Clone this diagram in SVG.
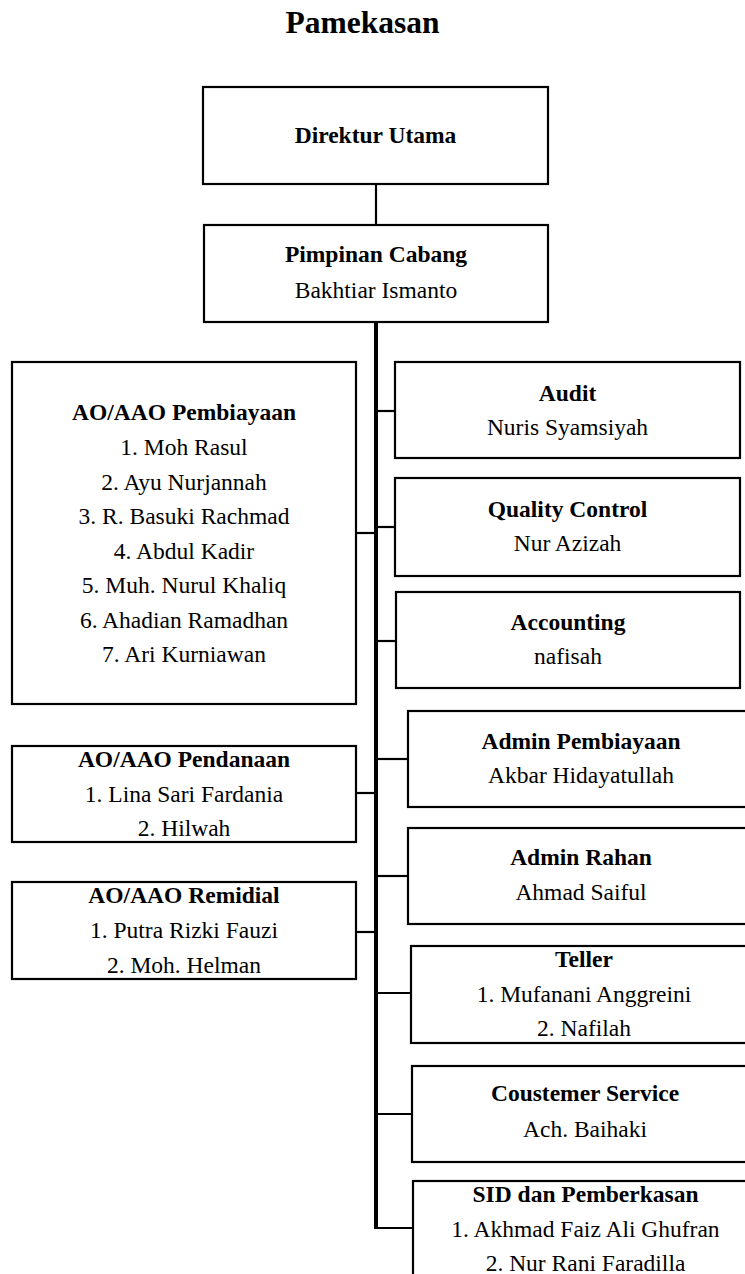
<svg xmlns="http://www.w3.org/2000/svg" width="745" height="1274" viewBox="0 0 745 1274">
<style>
.box{fill:#fff;stroke:#000;stroke-width:2.2}
text{font-family:'Liberation Serif','Times New Roman',Times,'DejaVu Serif',serif}
.t{font-size:23.5px;fill:#000;text-anchor:middle}
.b{font-weight:bold}
.title{font-size:31.5px;font-weight:bold;text-anchor:middle}
.c{fill:none;stroke:#000;stroke-width:2.2}
.main{fill:none;stroke:#000;stroke-width:4}
</style>
<rect width="745" height="1274" fill="#fff"/>
<text class="title" x="362.5" y="33" font-family="Liberation Serif, serif">Pamekasan</text>
<g id="connectors">
<line class="c" x1="376" y1="184" x2="376" y2="225"/>
<line class="main" x1="376" y1="322" x2="376" y2="1229"/>
<line class="c" x1="376" y1="411" x2="395" y2="411"/>
<line class="c" x1="376" y1="527" x2="395" y2="527"/>
<line class="c" x1="376" y1="641" x2="395" y2="641"/>
<line class="c" x1="376" y1="759" x2="408" y2="759"/>
<line class="c" x1="376" y1="876" x2="408" y2="876"/>
<line class="c" x1="376" y1="993" x2="411" y2="993"/>
<line class="c" x1="376" y1="1114" x2="412" y2="1114"/>
<line class="c" x1="374" y1="1228" x2="413" y2="1228"/>
<line class="c" x1="356" y1="533" x2="376" y2="533"/>
<line class="c" x1="356" y1="793" x2="376" y2="793"/>
<line class="c" x1="356" y1="932" x2="376" y2="932"/>
</g>
<g id="direktur">
<rect class="box" x="203" y="87" width="345" height="97"/>
<text class="t b" x="375.5" y="143">Direktur Utama</text>
</g>
<g id="pimpinan">
<rect class="box" x="204" y="225" width="344" height="97"/>
<text class="t b" x="376" y="262">Pimpinan Cabang</text>
<text class="t" x="376" y="298">Bakhtiar Ismanto</text>
</g>
<g id="pembiayaan">
<rect class="box" x="12" y="362" width="344" height="342"/>
<text class="t b" x="184" y="420">AO/AAO Pembiayaan</text>
<text class="t" x="184" y="455">1. Moh Rasul</text>
<text class="t" x="184" y="489.5">2. Ayu Nurjannah</text>
<text class="t" x="184" y="524">3. R. Basuki Rachmad</text>
<text class="t" x="184" y="558.5">4. Abdul Kadir</text>
<text class="t" x="184" y="593">5. Muh. Nurul Khaliq</text>
<text class="t" x="184" y="627.5">6. Ahadian Ramadhan</text>
<text class="t" x="184" y="662">7. Ari Kurniawan</text>
</g>
<g id="pendanaan">
<rect class="box" x="12" y="746" width="344" height="96"/>
<text class="t b" x="184" y="767">AO/AAO Pendanaan</text>
<text class="t" x="184" y="801.5">1. Lina Sari Fardania</text>
<text class="t" x="184" y="836">2. Hilwah</text>
</g>
<g id="remidial">
<rect class="box" x="12" y="882" width="344" height="97"/>
<text class="t b" x="184" y="903">AO/AAO Remidial</text>
<text class="t" x="184" y="938">1. Putra Rizki Fauzi</text>
<text class="t" x="184" y="973">2. Moh. Helman</text>
</g>
<g id="audit">
<rect class="box" x="395" y="362" width="345" height="96"/>
<text class="t b" x="567.5" y="401">Audit</text>
<text class="t" x="567.5" y="435">Nuris Syamsiyah</text>
</g>
<g id="quality">
<rect class="box" x="395" y="478" width="345" height="98"/>
<text class="t b" x="567.5" y="517">Quality Control</text>
<text class="t" x="567.5" y="551">Nur Azizah</text>
</g>
<g id="accounting">
<rect class="box" x="396" y="592" width="344" height="96"/>
<text class="t b" x="568" y="630">Accounting</text>
<text class="t" x="568" y="664">nafisah</text>
</g>
<g id="admin-pembiayaan">
<rect class="box" x="408" y="711" width="346" height="96"/>
<text class="t b" x="581" y="749">Admin Pembiayaan</text>
<text class="t" x="581" y="783">Akbar Hidayatullah</text>
</g>
<g id="admin-rahan">
<rect class="box" x="408" y="828" width="346" height="96"/>
<text class="t b" x="581" y="865">Admin Rahan</text>
<text class="t" x="581" y="900">Ahmad Saiful</text>
</g>
<g id="teller">
<rect class="box" x="411" y="946" width="346" height="97"/>
<text class="t b" x="584" y="967">Teller</text>
<text class="t" x="584" y="1002">1. Mufanani Anggreini</text>
<text class="t" x="584" y="1036">2. Nafilah</text>
</g>
<g id="customer-service">
<rect class="box" x="412" y="1066" width="346" height="96"/>
<text class="t b" x="585" y="1101">Coustemer Service</text>
<text class="t" x="585" y="1137">Ach. Baihaki</text>
</g>
<g id="sid">
<rect class="box" x="413" y="1181" width="346" height="110"/>
<text class="t b" x="585.5" y="1202">SID dan Pemberkasan</text>
<text class="t" x="585.5" y="1237">1. Akhmad Faiz Ali Ghufran</text>
<text class="t" x="585.5" y="1271">2. Nur Rani Faradilla</text>
</g>
</svg>
